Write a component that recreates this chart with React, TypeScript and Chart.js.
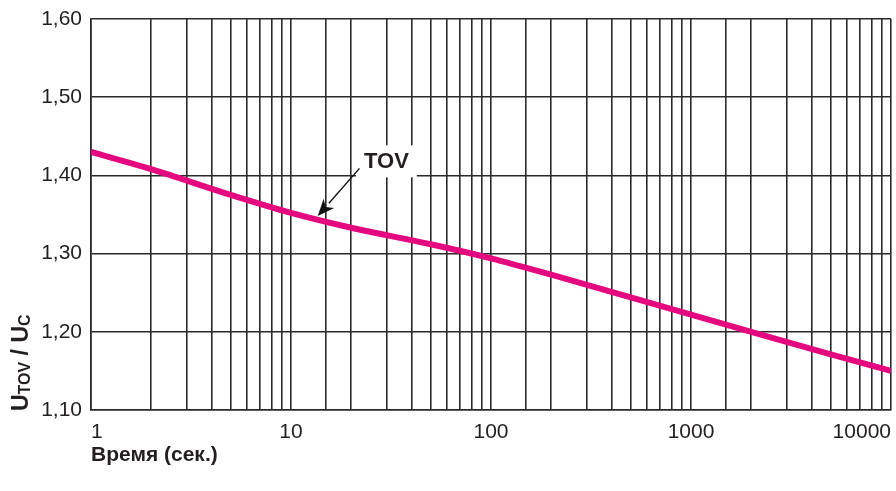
import React, { useEffect, useRef } from 'react';
import { Chart, registerables } from 'chart.js';

Chart.register(...registerables);

// ---- data ----
const timeSec = [1, 2, 5, 10, 20, 50, 100, 200, 500, 1000, 2000, 5000, 10000];
const tovRatio = [1.43, 1.408, 1.375, 1.352, 1.333, 1.312, 1.294, 1.273, 1.244, 1.222, 1.2, 1.171, 1.15];
const xTickLabels = ['1', '10', '100', '1000', '10000'];
const yMin = 1.1;
const yMax = 1.6;
const yStep = 0.1;
const xMin = 1;
const xMax = 10000;
const seriesName = 'TOV';
const xTitle = 'Время (сек.)';

// annotation anchors (data coordinates)
const labelAt = { x: 30, y: 1.418 };
const arrowFrom = { x: 22, y: 1.409 };
const arrowTo = { x: 13.6, y: 1.348 };

const LINE = '#2a2a2a';
const TEXT = '#231f20';
const MAGENTA = '#e5097f';

const yTitlePlugin = {
  id: 'yTitle',
  afterDraw(chart: any) {
    const { ctx, chartArea } = chart;
    ctx.save();
    ctx.translate(chartArea.left - 63, chartArea.bottom + 1);
    ctx.rotate(-Math.PI / 2);
    ctx.fillStyle = TEXT;
    ctx.textBaseline = 'alphabetic';
    ctx.textAlign = 'left';
    const big = 'bold 23px "Liberation Sans", Arial, sans-serif';
    const small = 'bold 16px "Liberation Sans", Arial, sans-serif';
    const parts: [string, string, number][] = [
      ['U', big, 0],
      ['TOV', small, 2],
      [' / U', big, 0],
      ['C', small, 2],
    ];
    let x = 0;
    for (const [t, f, dy] of parts) {
      ctx.font = f;
      ctx.fillText(t, x, 0 + dy);
      x += ctx.measureText(t).width;
    }
    ctx.restore();
  },
};

const annotationPlugin = {
  id: 'tovAnnotation',
  afterDatasetsDraw(chart: any) {
    const { ctx } = chart;
    const xs = chart.scales.x;
    const ys = chart.scales.y;
    const lx = xs.getPixelForValue(labelAt.x);
    const ly = ys.getPixelForValue(labelAt.y);
    ctx.save();
    ctx.font = 'bold 22px "Liberation Sans", Arial, sans-serif';
    const w = ctx.measureText(seriesName).width;
    ctx.fillStyle = '#ffffff';
    ctx.fillRect(lx - w / 2 - 8, ly - 16, w + 16, 32);
    ctx.fillStyle = TEXT;
    ctx.textAlign = 'center';
    ctx.textBaseline = 'middle';
    ctx.fillText(seriesName, lx, ly + 1);

    const x1 = xs.getPixelForValue(arrowFrom.x);
    const y1 = ys.getPixelForValue(arrowFrom.y);
    const x2 = xs.getPixelForValue(arrowTo.x);
    const y2 = ys.getPixelForValue(arrowTo.y);
    const ang = Math.atan2(y2 - y1, x2 - x1);
    const headLen = 17;
    const headW = 7;
    const bx = x2 - headLen * Math.cos(ang);
    const by = y2 - headLen * Math.sin(ang);
    ctx.strokeStyle = '#111';
    ctx.lineWidth = 1.4;
    ctx.beginPath();
    ctx.moveTo(x1, y1);
    ctx.lineTo(bx, by);
    ctx.stroke();
    ctx.fillStyle = '#111';
    ctx.beginPath();
    ctx.moveTo(x2, y2);
    ctx.lineTo(bx + headW * Math.sin(ang), by - headW * Math.cos(ang));
    ctx.lineTo(bx + 5 * Math.cos(ang), by + 5 * Math.sin(ang));
    ctx.lineTo(bx - headW * Math.sin(ang), by + headW * Math.cos(ang));
    ctx.closePath();
    ctx.fill();
    ctx.restore();
  },
};

export default function App() {
  const ref = useRef<HTMLCanvasElement | null>(null);

  useEffect(() => {
    if (!ref.current) return;
    const chart = new Chart(ref.current, {
      type: 'line',
      data: {
        datasets: [
          {
            label: seriesName,
            data: timeSec.map((t, i) => ({ x: t, y: tovRatio[i] })),
            borderColor: MAGENTA,
            borderWidth: 6,
            pointRadius: 0,
            fill: false,
            cubicInterpolationMode: 'monotone',
          },
        ],
      },
      options: {
        responsive: false,
        animation: false,
        layout: { padding: { top: 19, right: 5, left: 0, bottom: 0 } },
        plugins: {
          legend: { display: false },
          tooltip: { enabled: false },
          title: { display: false },
        },
        scales: {
          x: {
            type: 'logarithmic',
            min: xMin,
            max: xMax,
            afterFit: (s: any) => {
              s.height = 81;
              s.paddingLeft = 0;
              s.paddingRight = 0;
            },
            grid: { color: LINE, lineWidth: 1.6, drawTicks: false },
            border: { color: LINE, width: 1.6 },
            ticks: {
              autoSkip: false,
              maxRotation: 0,
              align: 'inner',
              padding: 10,
              color: TEXT,
              font: { family: '"Liberation Sans", Arial, sans-serif', size: 21 },
              callback: (v: any) => {
                const s = String(v);
                return xTickLabels.includes(s) ? s : '';
              },
            },
            title: {
              display: true,
              text: xTitle,
              align: 'start',
              color: TEXT,
              font: { family: '"Liberation Sans", Arial, sans-serif', size: 21, weight: 'bold' },
              padding: { top: 0, bottom: 23 },
            },
          },
          y: {
            min: yMin,
            max: yMax,
            afterFit: (s: any) => {
              s.width = 91;
              s.paddingTop = 0;
              s.paddingBottom = 0;
            },
            grid: { color: LINE, lineWidth: 1.6, drawTicks: false },
            border: { color: LINE, width: 1.6 },
            ticks: {
              stepSize: yStep,
              padding: 9,
              color: TEXT,
              font: { family: '"Liberation Sans", Arial, sans-serif', size: 21 },
              callback: (v: any) => Number(v).toFixed(2).replace('.', ','),
            },
          },
        },
      },
      plugins: [yTitlePlugin, annotationPlugin],
    } as any);
    return () => chart.destroy();
  }, []);

  return (
    <div style={{ position: 'fixed', left: 0, top: 0, width: 896, height: 491, background: '#fff' }}>
      <canvas ref={ref} width={896} height={491} />
    </div>
  );
}
